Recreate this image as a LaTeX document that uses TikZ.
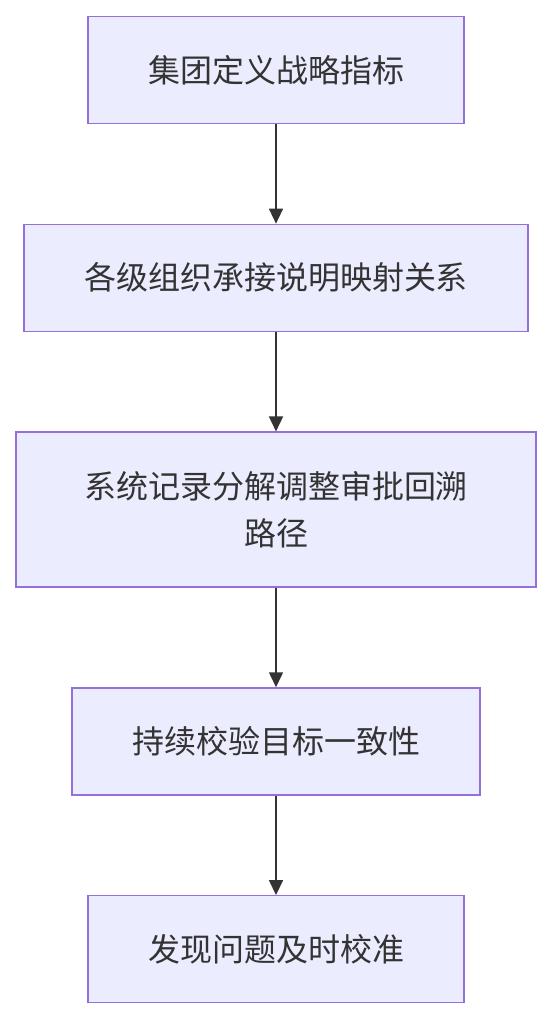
\documentclass[tikz,border=0pt]{standalone}
\usepackage{fontspec}
\setmainfont{Noto Sans CJK SC}
\usetikzlibrary{arrows.meta,positioning}
\definecolor{boxfill}{HTML}{ECECFF}
\definecolor{boxline}{HTML}{9370DB}
\definecolor{linkcolor}{HTML}{333333}

\begin{document}
\begin{tikzpicture}[
    block/.style={rectangle, draw=boxline, fill=boxfill, line width=1.3pt, minimum height=107pt, align=center, inner sep=0pt, text=linkcolor, font=\fontsize{32}{47}\selectfont},
    arrow/.style={-{Triangle[length=15pt,width=14pt]}, line width=1.5pt, draw=linkcolor},
    node distance=99.5pt
]
    \useasboundingbox (0,0) rectangle (552pt,-1020pt);
    % flow
    \node[block, minimum width=376pt] (define) at (276pt,-70pt) {集团定义战略指标};
    \node[block, minimum width=504pt, below=of define] (map) {各级组织承接说明映射关系};
    \node[block, minimum width=520pt, minimum height=155pt, below=of map] (record) {系统记录分解调整审批回溯\\路径};
    \node[block, minimum width=408pt, below=of record] (check) {持续校验目标一致性};
    \node[block, minimum width=376pt, below=of check] (fix) {发现问题及时校准};
    \draw[arrow] (define) -- (map);
    \draw[arrow] (map) -- (record);
    \draw[arrow] (record) -- (check);
    \draw[arrow] (check) -- (fix);
\end{tikzpicture}
\end{document}
